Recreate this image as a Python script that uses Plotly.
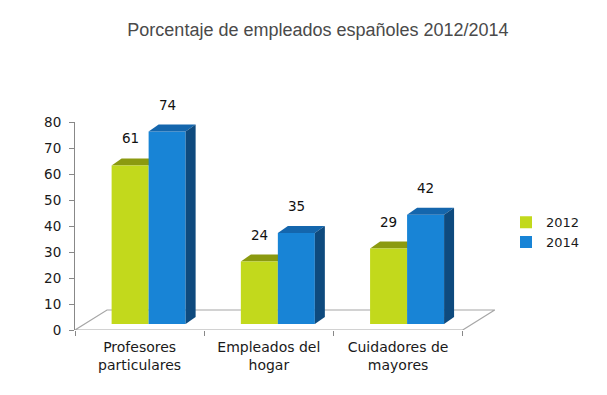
import plotly.graph_objects as go

categories = ["Profesores<br>particulares", "Empleados del<br>hogar", "Cuidadores de<br>mayores"]
series_names = ["2012", "2014"]
values_2012 = [61, 24, 29]
values_2014 = [74, 35, 42]
y_ticks = [0, 10, 20, 30, 40, 50, 60, 70, 80]

front_colors = ["#c2d91c", "#1884d6"]
top_colors = ["#8b9a10", "#1466ad"]
side_colors = ["#7c8a0c", "#0e4a7e"]

# the page body has an 8px default margin
PAGE_OFF = 8
W, H = 607, 395

# geometry (pixel-based styling converted to axis units), page coordinates
plot_left, plot_right = 75, 495
plot_top, plot_bottom = 122, 330
x_range = [-0.5, 2.75]
y_range = [0, 80]
px_per_x = (plot_right - plot_left) / (x_range[1] - x_range[0])
px_per_y = (plot_bottom - plot_top) / (y_range[1] - y_range[0])

shift_x = 9 / px_per_x       # bars sit part-way into the depth
shift_y = 6 / px_per_y
bar_w = 37 / px_per_x
dx = 10 / px_per_x
dy = 7 / px_per_y
floor_dx = 32 / px_per_x
floor_dy = 20 / px_per_y

FONT = "DejaVu Sans, Verdana, sans-serif"

fig = go.Figure()

xs = list(range(len(categories)))
all_vals = [values_2012, values_2014]
offsets = [-bar_w, 0.0]
for i, name in enumerate(series_names):
    fig.add_trace(go.Bar(
        x=xs, y=all_vals[i], name=name, xaxis="x2", yaxis="y2",
        width=bar_w, offset=offsets[i],
        marker=dict(color=front_colors[i], line=dict(width=0)),
        hoverinfo="skip",
    ))

# invisible trace on primary axes so the category axis shows
fig.add_trace(go.Scatter(x=categories, y=[None] * 3, xaxis="x", yaxis="y",
                         showlegend=False, hoverinfo="skip", mode="markers"))

shapes = []
# floor
shapes.append(dict(
    type="path", xref="x", yref="y", layer="below",
    path=(f"M {x_range[0]},0 L {x_range[0] + floor_dx},{floor_dy} "
          f"L {2.5 + floor_dx},{floor_dy} L 2.5,0 Z"),
    line=dict(color="#a6a6a6", width=1.2), fillcolor="rgba(255,255,255,0)",
))

for i in range(2):
    for j, v in enumerate(all_vals[i]):
        x0 = xs[j] + offsets[i]
        x1 = x0 + bar_w
        layer = "below" if i == 0 else "above"
        shapes.append(dict(
            type="path", xref="x2", yref="y2", layer=layer,
            path=f"M {x0},{v} L {x0 + dx},{v + dy} L {x1 + dx},{v + dy} L {x1},{v} Z",
            line=dict(width=0), fillcolor=top_colors[i],
        ))
        if i == 1:
            shapes.append(dict(
                type="path", xref="x2", yref="y2", layer="above",
                path=f"M {x1},0 L {x1},{v} L {x1 + dx},{v + dy} L {x1 + dx},{dy} Z",
                line=dict(width=0), fillcolor=side_colors[i],
            ))

annotations = []
for i in range(2):
    for j, v in enumerate(all_vals[i]):
        x0 = xs[j] + offsets[i]
        annotations.append(dict(
            x=x0 + bar_w / 2, y=v, xref="x2", yref="y2",
            text=str(v), showarrow=False, yshift=27,
            font=dict(size=13.5, color="#111111", family=FONT),
        ))

fig.update_layout(
    width=W, height=H,
    margin=dict(l=plot_left - PAGE_OFF, r=W - (plot_right - PAGE_OFF),
                t=plot_top - PAGE_OFF, b=H - (plot_bottom - PAGE_OFF)),
    paper_bgcolor="white", plot_bgcolor="white",
    title=dict(text="Porcentaje de empleados españoles 2012/2014",
               x=(318 - PAGE_OFF) / W, xanchor="center",
               y=1 - (30 - PAGE_OFF) / H, yanchor="middle",
               font=dict(size=18, color="#4a4a4a", family="Liberation Sans, Arial")),
    font=dict(family=FONT, size=13, color="#222222"),
    barmode="overlay",
    xaxis=dict(type="category", categoryorder="array", categoryarray=categories,
               range=x_range, tickson="boundaries", ticks="outside", ticklen=5,
               tickcolor="#888888", showline=False, showgrid=False, zeroline=False,
               ticklabelstandoff=7,
               tickfont=dict(size=14, color="#1a1a1a", family=FONT)),
    xaxis2=dict(overlaying="x", range=[x_range[0] - shift_x, x_range[1] - shift_x],
                visible=False),
    yaxis=dict(range=y_range, tickvals=y_ticks, ticks="outside", ticklen=5,
               tickcolor="#888888", showline=True, linecolor="#888888", linewidth=1,
               showgrid=False, zeroline=False, ticklabelstandoff=5,
               tickfont=dict(size=13.5, color="#1a1a1a", family=FONT)),
    yaxis2=dict(overlaying="y", range=[y_range[0] - shift_y, y_range[1] - shift_y],
                visible=False),
    legend=dict(x=1 + (506 - plot_right) / (plot_right - plot_left), xanchor="left",
                y=0.47, yanchor="middle",
                font=dict(size=13, color="#1a1a1a", family=FONT), itemwidth=30,
                bgcolor="rgba(0,0,0,0)"),
    shapes=shapes, annotations=annotations,
    showlegend=True,
)

fig.write_html("out.html")
